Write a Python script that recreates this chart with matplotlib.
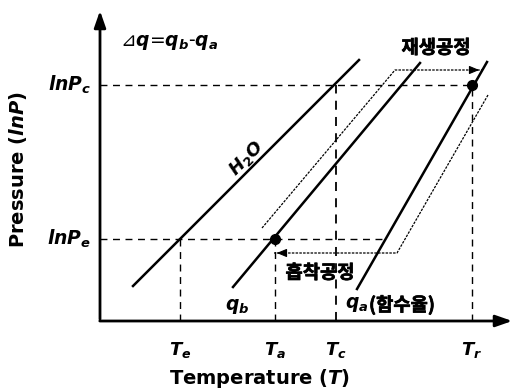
import matplotlib
matplotlib.use("Agg")
from matplotlib import pyplot as plt
from matplotlib import patheffects

plt.rcParams['font.family'] = ['DejaVu Sans', 'Noto Sans CJK KR']
plt.rcParams['mathtext.fontset'] = 'custom'
plt.rcParams['mathtext.it'] = 'DejaVu Sans:bold:italic'
plt.rcParams['mathtext.rm'] = 'DejaVu Sans:bold'
plt.rcParams['mathtext.bf'] = 'DejaVu Sans:bold'

# characteristic temperatures / pressures (schematic units)
temp_names = ['$T_e$', '$T_a$', '$T_c$', '$T_r$']
temp_vals = [8.0, 17.5, 23.6, 37.2]
lnP_names = ['$lnP_c$', '$lnP_e$']
lnP_vals = [23.6, 8.2]

# isosteres (start point, end point)
h2o_x = [3.3, 25.9]
h2o_y = [3.5, 26.1]
qb_x = [13.3, 32.0]
qb_y = [3.4, 25.8]
qa_x = [25.7, 38.7]
qa_y = [3.2, 25.9]

# process paths
regen_x = [16.2, 29.5, 38.2]
regen_y = [9.3, 25.1, 25.1]
adsorb_x = [38.8, 29.7, 17.4]
adsorb_y = [22.6, 6.8, 6.8]

fig = plt.figure(figsize=(5.2, 3.9), dpi=100)
ax = fig.add_axes([100 / 520, 69 / 390, 415 / 520, 313 / 390])
ax.set_xlim(0, 41.5)
ax.set_ylim(0, 31.3)
ax.axis('off')

# axes with arrows
ax.annotate('', xy=(41.5, 0), xytext=(-0.3, 0),
            arrowprops=dict(arrowstyle='-|>,head_length=1.0,head_width=0.35', color='black', lw=2),
            annotation_clip=False)
ax.annotate('', xy=(0, 31.3), xytext=(0, -0.1),
            arrowprops=dict(arrowstyle='-|>,head_length=1.0,head_width=0.35', color='black', lw=2),
            annotation_clip=False)

dash = (0, (5, 4))
Te, Ta, Tc, Tr = temp_vals
Pc, Pe = lnP_vals
# dashed guide lines
ax.plot([0, Tr], [Pc, Pc], color='black', lw=1, linestyle=dash)
ax.plot([0, 28.5], [Pe, Pe], color='black', lw=1, linestyle=dash)
ax.plot([Te, Te], [0, Pe], color='black', lw=1, linestyle=dash)
ax.plot([Ta, Ta], [0, Pe], color='black', lw=1, linestyle=dash)
ax.plot([Tc, Tc], [0, Pc], color='black', lw=1.3, linestyle=dash)
ax.plot([Tr, Tr], [0, Pc], color='black', lw=1, linestyle=dash)

# isosteres
ax.plot(h2o_x, h2o_y, color='black', lw=1.8)
ax.plot(qb_x, qb_y, color='black', lw=1.8)
ax.plot(qa_x, qa_y, color='black', lw=1.8)

# process paths (fine dotted) with arrows
dot = (0, (2, 1))
ax.plot(regen_x, regen_y, color='black', lw=0.9, linestyle=dot)
ax.annotate('', xy=(regen_x[-1], regen_y[-1]), xytext=(regen_x[-1] - 1.5, regen_y[-1]),
            arrowprops=dict(arrowstyle='-|>,head_length=0.6,head_width=0.25', color='black', lw=0.8))
ax.plot(adsorb_x, adsorb_y, color='black', lw=0.9, linestyle=dot)
ax.annotate('', xy=(adsorb_x[-1], adsorb_y[-1]), xytext=(adsorb_x[-1] + 1.5, adsorb_y[-1]),
            arrowprops=dict(arrowstyle='-|>,head_length=0.6,head_width=0.25', color='black', lw=0.8))

# state points
ax.plot([Ta, Tr], [Pe, Pc], 'o', color='black', markersize=7)

# tick labels
for name, t in zip(temp_names, temp_vals):
    ax.text(t, -2.9, name, ha='center', va='center', fontsize=13)
for name, p in zip(lnP_names, lnP_vals):
    ax.text(-0.9, p, name, ha='right', va='center', fontsize=13.5)

ax.text(16.0, -5.8, 'Temperature ($T$)', ha='center', va='center',
        fontsize=14, fontweight='bold')
ax.text(-8.2, 15.1, 'Pressure ($lnP$)', ha='center', va='center',
        fontsize=14, fontweight='bold', rotation=90)

heavy = [patheffects.withStroke(linewidth=0.5, foreground='black')]
ax.text(2.0, 27.9, '⊿$q$=$q_b$-$q_a$', ha='left', va='center', fontsize=13.5)
ax.text(33.6, 27.3, '재생공정', ha='center', va='center', fontsize=13.5,
        fontweight='bold', family=['Noto Sans CJK KR'], path_effects=heavy)
ax.text(22.0, 4.8, '흡착공정', ha='center', va='center', fontsize=13.5,
        fontweight='bold', family=['Noto Sans CJK KR'], path_effects=heavy)
ax.text(14.6, 16.3, 'H$_2$O', ha='center', va='center', fontsize=13,
        fontweight='bold', style='italic', rotation=45)
ax.text(13.7, 1.5, '$q_b$', ha='center', va='center', fontsize=13.5)
ax.text(24.5, 1.6, '$q_a$', ha='left', va='center', fontsize=13.5)
ax.text(26.9, 1.6, '(함수율)', ha='left', va='center', fontsize=13.5,
        fontweight='bold', family=['Noto Sans CJK KR'], path_effects=heavy)

fig.savefig('out.png', dpi=100)
